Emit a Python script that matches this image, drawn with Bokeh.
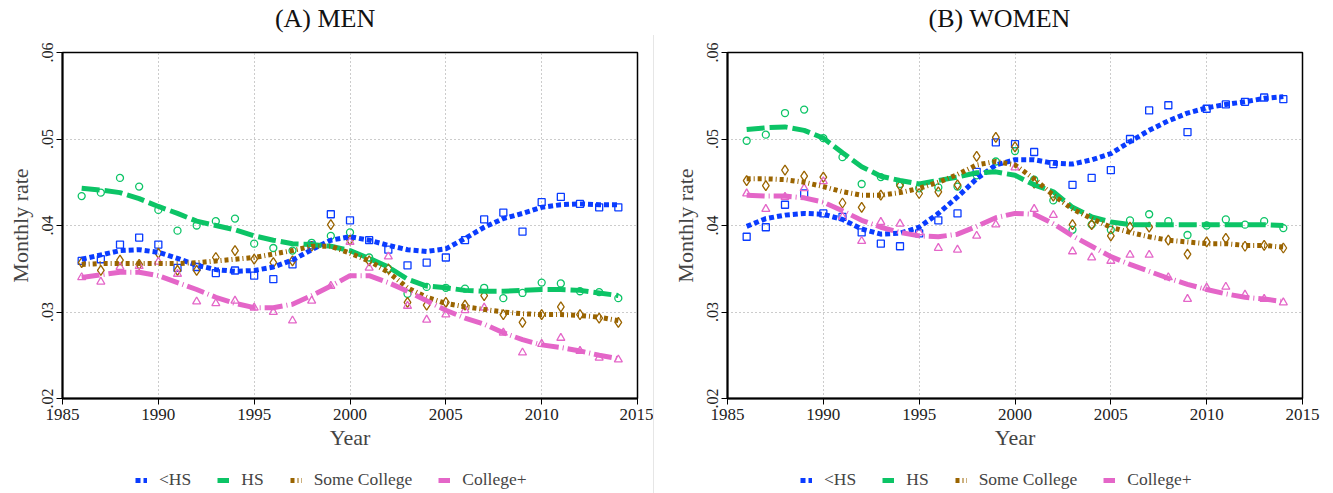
from bokeh.plotting import figure
from bokeh.models import Range1d, FixedTicker, CustomJSTickFormatter, Legend, LegendItem, Div
from bokeh.core.properties import value
from bokeh.layouts import row, column
from bokeh.embed import file_html
from bokeh.resources import INLINE

years = list(range(1986, 2015))
x_ticks = [1985, 1990, 1995, 2000, 2005, 2010, 2015]
y_ticks = [0.02, 0.03, 0.04, 0.05, 0.06]
groups = ["<HS", "HS", "Some College", "College+"]

# ---- Men: observed monthly rates ----
men_lths_pts = [.0359, .0361, .0378, .0386, .0378, .0351, .0352, .0345, .0348, .0342, .0338, .0355, .0377, .0413, .0406,
                .0383, .0372, .0354, .0357, .0363, .0383, .0407, .0415, .0393, .0427, .0433, .0425, .0421, .0421]
men_hs_pts = [.0434, .0438, .0455, .0445, .0418, .0394, .0400, .0405, .0408, .0379, .0374, .0371, .0380, .0388, .0392,
              .0363, .0350, .0321, .0329, .0328, .0327, .0328, .0316, .0322, .0334, .0333, .0324, .0323, .0316]
men_sc_pts = [.0357, .0348, .0360, .0355, .0368, .0348, .0348, .0363, .0371, .0361, .0357, .0359, .0376, .0401, .0383,
              .0359, .0350, .0311, .0308, .0311, .0308, .0319, .0297, .0288, .0297, .0306, .0297, .0293, .0288]
men_col_pts = [.0340, .0335, .0352, .0353, .0358, .0344, .0312, .0310, .0313, .0305, .0300, .0290, .0313, .0330, .0381,
               .0351, .0364, .0307, .0291, .0297, .0302, .0305, .0276, .0253, .0263, .0270, .0255, .0247, .0245]
# ---- Men: smoothed ----
men_lths_fit = [.0361, .0366, .0371, .0372, .0369, .0362, .0354, .0349, .0347, .0348, .0352, .0360, .0372, .0383, .0387,
                .0383, .0377, .0372, .0370, .0373, .0385, .0398, .0408, .0414, .0421, .0424, .0425, .0424, .0424]
men_hs_fit = [.0443, .0441, .0438, .0431, .0422, .0414, .0405, .0400, .0395, .0388, .0383, .0379, .0378, .0376, .0371,
              .0362, .0352, .0338, .0330, .0328, .0325, .0324, .0324, .0325, .0326, .0326, .0325, .0322, .0319]
men_sc_fit = [.0355, .0356, .0356, .0356, .0356, .0356, .0357, .0359, .0361, .0363, .0367, .0371, .0376, .0376, .0368,
              .0359, .0346, .0328, .0317, .0310, .0306, .0303, .0300, .0298, .0297, .0297, .0296, .0294, .0290]
men_col_fit = [.0340, .0343, .0346, .0346, .0342, .0334, .0326, .0317, .0310, .0305, .0305, .0309, .0319, .0330, .0342,
               .0342, .0334, .0324, .0313, .0302, .0293, .0286, .0276, .0268, .0262, .0259, .0255, .0250, .0246]

# ---- Women: observed monthly rates ----
women_lths_pts = [.0387, .0398, .0424, .0437, .0414, .0410, .0392, .0379, .0376, .0391, .0406, .0414, .0462, .0496, .0494, .0485,
                  .0471, .0447, .0455, .0464, .0500, .0533, .0539, .0508, .0535, .0540, .0543, .0548, .0546]
women_hs_pts = [.0498, .0505, .0530, .0534, .0501, .0479, .0448, .0456, .0448, .0443, .0444, .0445, .0458, .0474, .0486, .0453,
                .0429, .0395, .0401, .0395, .0406, .0413, .0405, .0389, .0400, .0407, .0401, .0405, .0397]
women_sc_pts = [.0452, .0446, .0464, .0457, .0456, .0426, .0421, .0435, .0446, .0437, .0439, .0447, .0480, .0502, .0491, .0449,
                .0434, .0401, .0401, .0388, .0398, .0398, .0383, .0367, .0381, .0385, .0376, .0377, .0374]
women_col_pts = [.0437, .0419, .0433, .0443, .0451, .0410, .0382, .0404, .0402, .0392, .0374, .0372, .0388, .0401, .0467, .0419,
                 .0412, .0370, .0363, .0359, .0366, .0366, .0340, .0315, .0328, .0329, .0320, .0315, .0311]
# ---- Women: smoothed ----
women_lths_fit = [.0399, .0408, .0412, .0414, .0413, .0407, .0396, .0390, .0391, .0398, .0414, .0433, .0454, .0470, .0476, .0476,
                  .0472, .0471, .0476, .0483, .0497, .0510, .0521, .0530, .0536, .0540, .0543, .0547, .0549]
women_hs_fit = [.0511, .0513, .0514, .0510, .0501, .0484, .0468, .0457, .0452, .0448, .0452, .0456, .0461, .0462, .0458, .0447,
                .0439, .0421, .0410, .0404, .0401, .0401, .0401, .0401, .0401, .0401, .0401, .0401, .0400]
women_sc_fit = [.0454, .0454, .0453, .0450, .0445, .0439, .0435, .0435, .0438, .0443, .0450, .0459, .0470, .0474, .0470, .0454,
                .0435, .0419, .0408, .0398, .0392, .0387, .0383, .0381, .0379, .0379, .0377, .0377, .0375]
women_col_fit = [.0435, .0434, .0434, .0432, .0427, .0417, .0406, .0398, .0392, .0388, .0387, .0390, .0399, .0409, .0414, .0413,
                 .0402, .0388, .0376, .0364, .0355, .0347, .0339, .0332, .0326, .0321, .0317, .0315, .0312]

FONT = "Liberation Serif"
colors = ["#0a3cff", "#0cc466", "#9a6400", "#e466c8"]
markers = ["square", "circle", "diamond", "triangle"]
msizes = [7, 7, 10, 8]
dashes = ["5 3", "18 5", "4 3 1 3", "18 4 1 4"]


def strip(width, height, x_range):
    s = figure(width=width, height=height, output_backend="svg", toolbar_location=None,
               x_range=x_range, y_range=Range1d(0, 1),
               x_axis_location=None, y_axis_location=None,
               min_border_left=0, min_border_right=0, min_border_top=0, min_border_bottom=0,
               outline_line_color=None, background_fill_color="white", border_fill_color="white")
    s.grid.visible = False
    return s


def panel(title, title_x, pts, fits, width, left_border, right_border):
    xr = Range1d(1985, 2015)
    # title strip
    ts = strip(width, 35, xr)
    ts.text(x=[title_x], y=[0.5], text=[title], text_font=value(FONT), text_font_size="26px",
            text_align="center", text_baseline="middle", text_color="#111111")

    p = figure(width=width, height=418, output_backend="svg", toolbar_location=None,
               x_range=xr, y_range=Range1d(0.02, 0.06),
               min_border_left=left_border, min_border_right=right_border,
               min_border_top=17, min_border_bottom=55, background_fill_color="white",
               border_fill_color="white")
    p.outline_line_color = "black"
    p.outline_line_width = 1.5

    for ax in (p.xaxis[0], p.yaxis[0]):
        ax.axis_line_color = "black"
        ax.axis_line_width = 2
        ax.major_tick_out = 6
        ax.major_tick_in = 0
        ax.minor_tick_line_color = None
        ax.major_label_text_font = FONT
        ax.axis_label_text_font = FONT
        ax.axis_label_text_font_style = "normal"
        ax.axis_label_text_font_size = "22px"
        ax.major_label_text_color = "#222222"
    p.xaxis.ticker = FixedTicker(ticks=x_ticks)
    p.yaxis.ticker = FixedTicker(ticks=y_ticks)
    p.xaxis.major_label_text_font_size = "17px"
    p.yaxis.major_label_text_font_size = "16px"
    p.yaxis.major_label_orientation = "vertical"
    p.yaxis.formatter = CustomJSTickFormatter(code="return tick.toFixed(2).replace(/^0/, '');")
    p.xaxis.axis_label = "Year"
    p.yaxis.axis_label = "Monthly rate"
    p.xaxis.axis_label_standoff = 2
    p.yaxis.axis_label_standoff = 6
    p.xaxis.major_label_standoff = 4
    p.yaxis.major_label_standoff = 4

    for g in (p.xgrid[0], p.ygrid[0]):
        g.grid_line_color = "#999999"
        g.grid_line_dash = "1 3"
        g.grid_line_width = 1
    p.xgrid.ticker = FixedTicker(ticks=x_ticks)
    p.ygrid.ticker = FixedTicker(ticks=y_ticks)

    for i in range(4):
        p.scatter(years, pts[i], marker=markers[i], size=msizes[i], fill_color=None,
                  line_color=colors[i], line_width=1.3)
    for i in range(4):
        p.line(years, fits[i], line_color=colors[i], line_width=5, line_dash=dashes[i])

    # legend strip below the panel (legend lines hold off-screen points)
    lf = strip(width, 40, Range1d(0, 1))
    items = []
    for i in range(4):
        r = lf.line([5, 6], [5, 6], line_color=colors[i], line_width=5, line_dash=dashes[i])
        items.append(LegendItem(label=groups[i], renderers=[r]))
    leg = Legend(items=items, orientation="horizontal", location=(73, 3),
                 label_text_font=FONT, label_text_font_size="17.5px", glyph_width=12, glyph_height=8,
                 label_standoff=12, spacing=26, padding=0, margin=0,
                 border_line_color=None, background_fill_alpha=0)
    lf.add_layout(leg, "center")
    return column(ts, p, lf, spacing=0)


c1 = panel("(A) MEN", 1998.7, [men_lths_pts, men_hs_pts, men_sc_pts, men_col_pts],
           [men_lths_fit, men_hs_fit, men_sc_fit, men_col_fit], 653, 62, 16)
sep = Div(text="", width=1, height=458, margin=(35, 0, 0, 0), styles={"background-color": "#e6e6e6"})
c2 = panel("(B) WOMEN", 1999.2, [women_lths_pts, women_hs_pts, women_sc_pts, women_col_pts],
           [women_lths_fit, women_hs_fit, women_sc_fit, women_col_fit], 679, 73, 31)

layout = row(c1, sep, c2, spacing=0)
open("out.html", "w").write(file_html(layout, INLINE))
